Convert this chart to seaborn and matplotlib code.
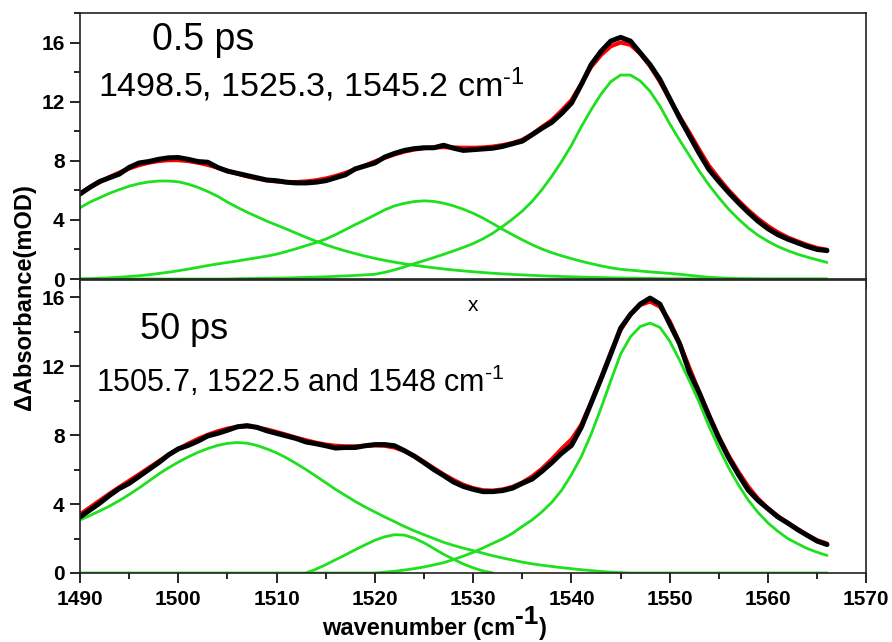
import numpy as np
import pandas as pd
import matplotlib
matplotlib.use("Agg")
from matplotlib import pyplot as plt
from matplotlib.ticker import MultipleLocator
import seaborn as sns

nan = np.nan
wavenumber = list(range(1490, 1567))

# ---- 0.5 ps ----
data_05 = [5.75, 6.2, 6.6, 6.85, 7.1, 7.55, 7.85, 7.95, 8.1, 8.2,
           8.22, 8.1, 7.95, 7.9, 7.55, 7.3, 7.15, 7.0, 6.85, 6.7,
           6.65, 6.55, 6.5, 6.5, 6.55, 6.65, 6.85, 7.05, 7.45, 7.65,
           7.85, 8.25, 8.5, 8.7, 8.82, 8.88, 8.88, 9.05, 8.85, 8.7,
           8.75, 8.8, 8.85, 8.97, 9.15, 9.33, 9.76, 10.2, 10.6, 11.2,
           11.9, 13.15, 14.5, 15.4, 16.1, 16.35, 16.1, 15.3, 14.5, 13.5,
           12.2, 10.9, 9.7, 8.5, 7.4, 6.6, 5.85, 5.15, 4.5, 3.9,
           3.4, 3.0, 2.7, 2.45, 2.2, 2.0, 1.92]
fit_05 = [5.8, 6.2, 6.55, 6.9, 7.2, 7.48, 7.7, 7.87, 7.98, 8.04,
          8.04, 7.98, 7.87, 7.72, 7.53, 7.33, 7.13, 6.95, 6.8, 6.68,
          6.6, 6.56, 6.56, 6.6, 6.68, 6.8, 6.97, 7.18, 7.42, 7.68,
          7.95, 8.2, 8.43, 8.62, 8.76, 8.85, 8.9, 8.92, 8.9, 8.88,
          8.88, 8.9, 8.96, 9.06, 9.2, 9.42, 9.8, 10.28, 10.75, 11.4,
          12.1, 13.2, 14.35, 15.15, 15.75, 16.0, 15.85, 15.25, 14.4, 13.35,
          12.15, 11.0, 9.9, 8.75, 7.65, 6.8, 6.0, 5.3, 4.65, 4.08,
          3.58, 3.16, 2.82, 2.55, 2.3, 2.1, 1.98]
band1_05 = [4.82, 5.2, 5.5, 5.8, 6.05, 6.28, 6.45, 6.57, 6.63, 6.63,
            6.58, 6.42, 6.2, 5.92, 5.6, 5.2, 4.85, 4.52, 4.22, 3.92,
            3.65, 3.38, 3.1, 2.82, 2.56, 2.32, 2.1, 1.9, 1.72, 1.55,
            1.4, 1.26, 1.14, 1.03, 0.93, 0.84, 0.76, 0.68, 0.61, 0.55,
            0.49, 0.44, 0.39, 0.35, 0.31, 0.28, 0.25, 0.22, 0.19, 0.17,
            0.15, 0.13, 0.11, 0.1, 0.08, 0.07, 0.06, 0.05, 0.04, 0.03,
            0.02, 0.02, 0.01, 0.01, 0.0, 0.0, 0.0, 0.0, 0.0, 0.0,
            0.0, 0.0, 0.0, 0.0, 0.0, 0.0, 0.0]
band2_05 = [0.0, 0.02, 0.05, 0.08, 0.12, 0.17, 0.22, 0.29, 0.37, 0.46,
            0.56, 0.67, 0.79, 0.91, 1.02, 1.12, 1.22, 1.33, 1.44, 1.55,
            1.68, 1.86, 2.05, 2.26, 2.46, 2.7, 3.0, 3.34, 3.68, 4.0,
            4.33, 4.68, 4.95, 5.12, 5.24, 5.29, 5.25, 5.13, 4.95, 4.72,
            4.45, 4.12, 3.75, 3.36, 3.0, 2.65, 2.32, 2.03, 1.78, 1.57,
            1.38, 1.2, 1.04, 0.89, 0.76, 0.66, 0.6, 0.54, 0.48, 0.43,
            0.38, 0.32, 0.25, 0.18, 0.12, 0.08, 0.05, 0.03, 0.02, 0.01,
            0.0, 0.0, 0.0, 0.0, 0.0, 0.0, 0.0]
band3_05 = [0.0, 0.0, 0.0, 0.0, 0.0, 0.0, 0.0, 0.0, 0.0, 0.0,
            0.0, 0.0, 0.0, 0.0, 0.0, 0.0, 0.02, 0.03, 0.04, 0.05,
            0.06, 0.07, 0.09, 0.11, 0.13, 0.15, 0.18, 0.21, 0.24, 0.28,
            0.32, 0.45, 0.62, 0.82, 1.04, 1.24, 1.45, 1.67, 1.9, 2.14,
            2.4, 2.72, 3.1, 3.56, 4.05, 4.6, 5.25, 6.05, 6.95, 7.95,
            9.05, 10.3, 11.45, 12.5, 13.35, 13.8, 13.8, 13.4, 12.7, 11.7,
            10.5, 9.4, 8.35, 7.3, 6.35, 5.5, 4.72, 4.05, 3.45, 2.95,
            2.55, 2.2, 1.92, 1.68, 1.48, 1.3, 1.12]

# ---- 50 ps ----
data_50 = [3.25, 3.65, 4.05, 4.5, 4.9, 5.2, 5.6, 6.0, 6.4, 6.85,
           7.2, 7.4, 7.65, 7.95, 8.1, 8.28, 8.48, 8.55, 8.45, 8.25,
           8.1, 7.95, 7.8, 7.6, 7.5, 7.38, 7.25, 7.28, 7.28, 7.38,
           7.45, 7.45, 7.38, 7.1, 6.78, 6.4, 6.0, 5.65, 5.28, 5.02,
           4.85, 4.72, 4.72, 4.78, 4.92, 5.2, 5.45, 5.9, 6.4, 6.95,
           7.4, 8.45, 9.85, 11.25, 12.7, 14.2, 15.0, 15.6, 15.95, 15.6,
           14.45, 13.3, 11.65, 10.45, 9.1, 7.82, 6.68, 5.7, 4.8, 4.2,
           3.72, 3.25, 2.9, 2.52, 2.18, 1.85, 1.65]
fit_50 = [3.4, 3.8, 4.2, 4.6, 4.98, 5.35, 5.72, 6.1, 6.48, 6.85,
          7.2, 7.5, 7.78, 8.02, 8.22, 8.38, 8.48, 8.5, 8.45, 8.33,
          8.18, 8.02, 7.85, 7.7, 7.56, 7.45, 7.38, 7.35, 7.35, 7.38,
          7.4, 7.38, 7.28, 7.08, 6.8, 6.45, 6.08, 5.72, 5.4, 5.12,
          4.92, 4.8, 4.78, 4.85, 5.0, 5.25, 5.6, 6.05, 6.6, 7.2,
          7.75, 8.6, 9.9, 11.3, 12.8, 14.1, 15.0, 15.55, 15.75, 15.45,
          14.6, 13.35, 11.9, 10.5, 9.15, 7.9, 6.8, 5.85, 5.0, 4.3,
          3.75, 3.3, 2.9, 2.55, 2.2, 1.9, 1.7]
band1_50 = [3.08, 3.33, 3.6, 3.88, 4.2, 4.55, 4.93, 5.33, 5.74, 6.1,
            6.43, 6.73, 7.0, 7.22, 7.4, 7.52, 7.57, 7.53, 7.4, 7.2,
            6.97, 6.68, 6.35, 6.0, 5.62, 5.24, 4.85, 4.5, 4.15, 3.83,
            3.54, 3.25, 2.98, 2.7, 2.45, 2.22, 2.0, 1.78, 1.6, 1.44,
            1.3, 1.15, 1.0, 0.87, 0.75, 0.63, 0.53, 0.45, 0.38, 0.31,
            0.25, 0.19, 0.14, 0.09, 0.05, 0.02, 0.0, 0.0, 0.0, 0.0,
            0.0, 0.0, 0.0, 0.0, 0.0, 0.0, 0.0, 0.0, 0.0, 0.0,
            0.0, 0.0, 0.0, 0.0, 0.0, 0.0, 0.0]
band2_50 = [nan] * 23 + [0.0, 0.22, 0.48, 0.77, 1.05, 1.35, 1.63, 1.9, 2.1, 2.22,
                         2.2, 2.02, 1.75, 1.42, 1.08, 0.8, 0.52, 0.3, 0.12, 0.0] + [nan] * 34
band3_50 = [0.0] * 30 + [0.0, 0.05, 0.1, 0.17, 0.25, 0.35, 0.47, 0.6, 0.78, 0.98,
                         1.2, 1.45, 1.72, 1.98, 2.3, 2.7, 3.08, 3.55, 4.1, 4.8,
                         5.7, 6.75, 8.05, 9.55, 11.15, 12.7, 13.7, 14.3, 14.5, 14.25,
                         13.45, 12.35, 11.15, 9.9, 8.5, 7.25, 6.1, 5.1, 4.22, 3.5,
                         2.9, 2.42, 2.0, 1.7, 1.42, 1.2, 1.02]

xticks = [1490, 1500, 1510, 1520, 1530, 1540, 1550, 1560, 1570]
yticks = [0, 4, 8, 12, 16]

GREEN = '#1ee01e'

sns.set_style('ticks')
plt.rcParams['font.family'] = ['Liberation Sans', 'DejaVu Sans']
plt.rcParams['mathtext.fontset'] = 'custom'
plt.rcParams['mathtext.rm'] = 'Liberation Sans'
plt.rcParams['mathtext.bf'] = 'Liberation Sans:bold'
plt.rcParams['mathtext.default'] = 'regular'
plt.rcParams['text.color'] = 'black'
plt.rcParams['xtick.color'] = 'black'
plt.rcParams['ytick.color'] = 'black'


def draw_panel(ax, black, red, bands, ymax):
    for b in bands:
        df = pd.DataFrame({'w': wavenumber, 'a': b}).dropna()
        sns.lineplot(data=df, x='w', y='a', ax=ax, color=GREEN, lw=2.0)
    sns.lineplot(x=wavenumber, y=red, ax=ax, color='red', lw=3.0)
    sns.lineplot(x=wavenumber, y=black, ax=ax, color='black', lw=3.6)
    ax.set_xlim(1490, 1570)
    ax.set_ylim(0, ymax)
    ax.set_xlabel('')
    ax.set_ylabel('')
    ax.set_xticks(xticks)
    ax.set_yticks(yticks)
    ax.set_yticklabels([str(t) for t in yticks], fontsize=15, fontweight='bold')
    ax.xaxis.set_minor_locator(MultipleLocator(5))
    ax.yaxis.set_minor_locator(MultipleLocator(2))
    ax.tick_params(which='major', length=7, width=1.2, direction='out', pad=4)
    ax.tick_params(which='minor', length=4, width=1.2, direction='out')
    for s in ax.spines.values():
        s.set_visible(True)
        s.set_linewidth(1.2)
        s.set_color('#222222')


fig = plt.figure(figsize=(8.92, 6.42), dpi=100)
ax_top = fig.add_axes([0.0897, 0.5654, 0.8815, 0.4144])
ax_bot = fig.add_axes([0.0897, 0.1075, 0.8815, 0.4564])

draw_panel(ax_top, data_05, fit_05, [band1_05, band2_05, band3_05], 18)
ax_top.tick_params(axis='x', labelbottom=False)

draw_panel(ax_bot, data_50, fit_50, [band1_50, band2_50, band3_50], 17)
ax_bot.set_xticklabels([str(t) for t in xticks], fontsize=15, fontweight='bold')
ax_bot.tick_params(axis='x', pad=5)

ax_top.text(1497.3, 15.5, '0.5 ps', fontsize=27, va='baseline')
ax_top.text(1491.8, 12.34, '1498.5, 1525.3, 1545.2 cm$^{\\text{-1}}$', fontsize=24.5, va='baseline')
ax_bot.text(1496.1, 13.58, '50 ps', fontsize=26, va='baseline')
ax_bot.text(1491.6, 10.52, '1505.7, 1522.5 and 1548 cm$^{\\text{-1}}$', fontsize=22, va='baseline')
ax_bot.text(1530, 15.5, 'x', fontsize=15, ha='center', va='center')

fig.text(0.028, 1 - 297 / 642, '\u0394Absorbance(mOD)', rotation=90,
         fontsize=17, fontweight='bold', ha='center', va='center')

# x label: Origin-style large superscript, built from three pieces
xl1 = fig.text(322 / 892, 1 - 635 / 642, 'wavenumber (cm', fontsize=17,
               fontweight='bold', ha='left', va='baseline')
sup = plt.annotate('-1', xy=(1, 0.5), xycoords=xl1, fontsize=19,
                   fontweight='bold', ha='left', va='bottom',
                   annotation_clip=False)
plt.annotate(')', xy=(1, 0), xycoords=(sup, xl1), fontsize=17,
             fontweight='bold', ha='left', va='bottom', annotation_clip=False)

fig.savefig('out.png', dpi=100)
